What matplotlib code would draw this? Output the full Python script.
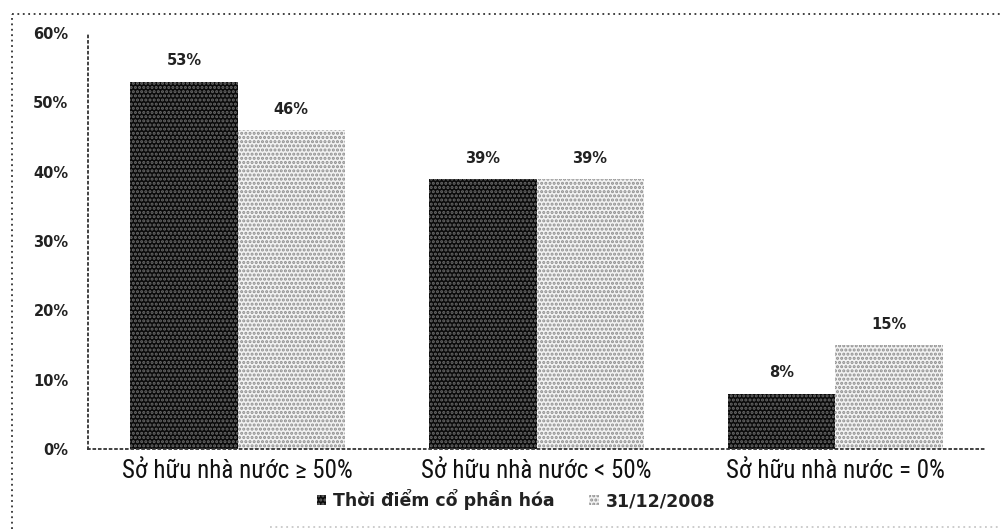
import matplotlib
matplotlib.use("Agg")
import matplotlib.pyplot as plt
from matplotlib.lines import Line2D
from matplotlib.ticker import FuncFormatter
import numpy as np

categories = ["Sở hữu nhà nước ≥ 50%", "Sở hữu nhà nước < 50%", "Sở hữu nhà nước = 0%"]
series_names = ["Thời điểm cổ phần hóa", "31/12/2008"]
at_equitization = [53, 39, 8]
at_end_2008 = [46, 39, 15]
yticks = [0, 10, 20, 30, 40, 50, 60]

plt.rcParams["hatch.linewidth"] = 1.5
plt.rcParams["font.family"] = "DejaVu Sans"

fig = plt.figure(figsize=(10, 5.29), dpi=100)
ax = fig.add_axes([0.088, 0.151, 0.897, 0.7864])

x = np.arange(len(categories))
w = 0.358
b1 = ax.bar(x - w / 2, at_equitization, w, facecolor="#0a0a0a", edgecolor="#6a6a6a",
            hatch="....", linewidth=0, label=series_names[0])
b2 = ax.bar(x + w / 2, at_end_2008, w, facecolor="#f2f2f2", edgecolor="#8e8e8e",
            hatch="....", linewidth=0, label=series_names[1])

for bars, vals in ((b1, at_equitization), (b2, at_end_2008)):
    for r, v in zip(bars, vals):
        ax.text(r.get_x() + r.get_width() / 2, v + 1.9, f"{v}%", ha="center", va="bottom",
                fontsize=10.5, fontweight="bold", color="#222222", family="DejaVu Sans")

ax.set_xlim(-0.5, 2.5)
ax.set_ylim(0, 60)
ax.set_yticks(yticks)
ax.yaxis.set_major_formatter(FuncFormatter(lambda v, p: f"{int(v)}%"))
ax.set_xticks(x)
ax.set_xticklabels(categories, family="Roboto Condensed", fontsize=18)
ax.tick_params(axis="x", length=0, pad=7, colors="#111111")
ax.tick_params(axis="y", length=0, pad=14, labelsize=10.5, colors="#222222")
for lab in ax.get_yticklabels():
    lab.set_fontweight("bold")
    lab.set_family("DejaVu Sans")

for s in ("top", "right"):
    ax.spines[s].set_visible(False)
for s in ("left", "bottom"):
    ax.spines[s].set_linestyle((0, (1, 2)))
    ax.spines[s].set_linewidth(1.3)
    ax.spines[s].set_color("#333333")

leg = fig.legend(handles=[b1, b2], labels=series_names, loc="center",
                 bbox_to_anchor=(0.516, 0.055), ncol=2, frameon=False,
                 handlelength=0.55, handleheight=0.55, columnspacing=2.0, handletextpad=0.4,
                 prop={"weight": "bold", "size": 12.5, "family": "DejaVu Sans"})
for t in leg.get_texts():
    t.set_color("#222222")

# dotted frame: top and left edges, faint trace along the bottom
frame_style = dict(transform=fig.transFigure, linestyle=(0, (1, 2)), linewidth=1.3)
fig.add_artist(Line2D([0.012, 1.0], [0.974, 0.974], color="#333333", **frame_style))
fig.add_artist(Line2D([0.012, 0.012], [0.0, 0.974], color="#333333", **frame_style))
fig.add_artist(Line2D([0.27, 1.0], [0.004, 0.004], color="#c8c8c8", **frame_style))

fig.savefig("out.png", dpi=100, facecolor="white")
